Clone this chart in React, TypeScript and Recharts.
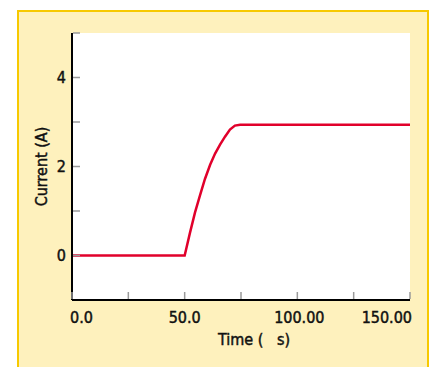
import React from "react";
import { LineChart, Line, XAxis, YAxis, CartesianGrid } from "recharts";

// time (µs) and current (A)
const timeUs = [0, 50, 52.4, 54.6, 56.8, 59, 61.3, 63.5, 65.7, 67.9, 70.1, 72.3, 74.6, 150];
const currentA = [0, 0, 0.52, 0.97, 1.35, 1.72, 2.04, 2.29, 2.49, 2.67, 2.83, 2.92, 2.94, 2.94];

const xTicks = [0, 25, 50, 75, 100, 125, 150];
const xTickLabels: Record<number, string> = { 0: "0.0", 50: "50.0", 100: "100.00", 150: "150.00" };
const yTicks = [-1, 0, 1, 2, 3, 4, 5];
const yTickLabels = [0, 2, 4];

const data = timeUs.map((t, i) => ({ time: t, current: currentA[i] }));

const FONT = "'Liberation Sans Narrow', 'DejaVu Sans Condensed', 'Arial Narrow', sans-serif";
const textStyle = { fontSize: 16, fontFamily: FONT, fill: "#111", stroke: "#111", strokeWidth: 0.45 };

function XTick({ x, y, payload }: any) {
  const v = payload.value;
  const label = xTickLabels[v];
  const anchor = v === 0 ? "start" : v === 150 ? "end" : "middle";
  const dx = v === 0 ? -2 : v === 150 ? 2 : v === 100 ? 2 : 0;
  return (
    <g>
      <line x1={x} x2={x} y1={y - 1} y2={y - 8} stroke="#9a9a9a" strokeWidth={1.5} />
      {label && (
        <text x={x + dx} y={y + 23} textAnchor={anchor} style={textStyle}>
          {label}
        </text>
      )}
    </g>
  );
}

function YTick({ x, y, payload }: any) {
  const v = payload.value;
  return (
    <g>
      {v !== -1 && <line x1={x + 1} x2={x + 8} y1={y} y2={y} stroke="#9a9a9a" strokeWidth={1.5} />}
      {yTickLabels.includes(v) && (
        <text x={x - 6} y={y} dy="0.36em" textAnchor="end" style={textStyle}>
          {v}
        </text>
      )}
    </g>
  );
}

export default function App() {
  return (
    <div style={{ position: "absolute", left: 0, top: 0, width: 431, height: 367, overflow: "hidden", background: "#fff" }}>
      <div
        style={{
          position: "absolute",
          left: 17,
          top: 10,
          width: 412,
          height: 370,
          boxSizing: "border-box",
          background: "#FEF1BD",
          border: "2px solid #F7C900",
          borderBottom: "none",
        }}
      />
      <LineChart
        width={431}
        height={367}
        data={data}
        margin={{ top: 33, right: 21, left: 32, bottom: 17 }}
        style={{ position: "absolute", left: 0, top: 0 }}
      >
        <CartesianGrid horizontal={false} vertical={false} fill="#fff" stroke="none" />
        <XAxis
          dataKey="time"
          type="number"
          domain={[0, 150]}
          ticks={xTicks}
          height={50}
          axisLine={{ stroke: "#000", strokeWidth: 2 }}
          tickLine={false}
          tickSize={0}
          tickMargin={0}
          tick={<XTick />}
          label={{
            value: "Time (\u00a0\u00a0\u00a0s)",
            position: "insideBottom",
            offset: 5,
            dx: 13,
            style: textStyle,
          }}
        />
        <YAxis
          type="number"
          domain={[-1, 5]}
          ticks={yTicks}
          width={40}
          axisLine={{ stroke: "#000", strokeWidth: 2 }}
          tickLine={false}
          tickSize={0}
          tickMargin={0}
          tick={<YTick />}
          label={{
            value: "Current (A)",
            angle: -90,
            position: "insideLeft",
            offset: 9,
            style: { ...textStyle, textAnchor: "middle" },
          }}
        />
        <Line
          type="linear"
          dataKey="current"
          stroke="#E1002B"
          strokeWidth={2.5}
          dot={false}
          isAnimationActive={false}
        />
      </LineChart>
    </div>
  );
}
